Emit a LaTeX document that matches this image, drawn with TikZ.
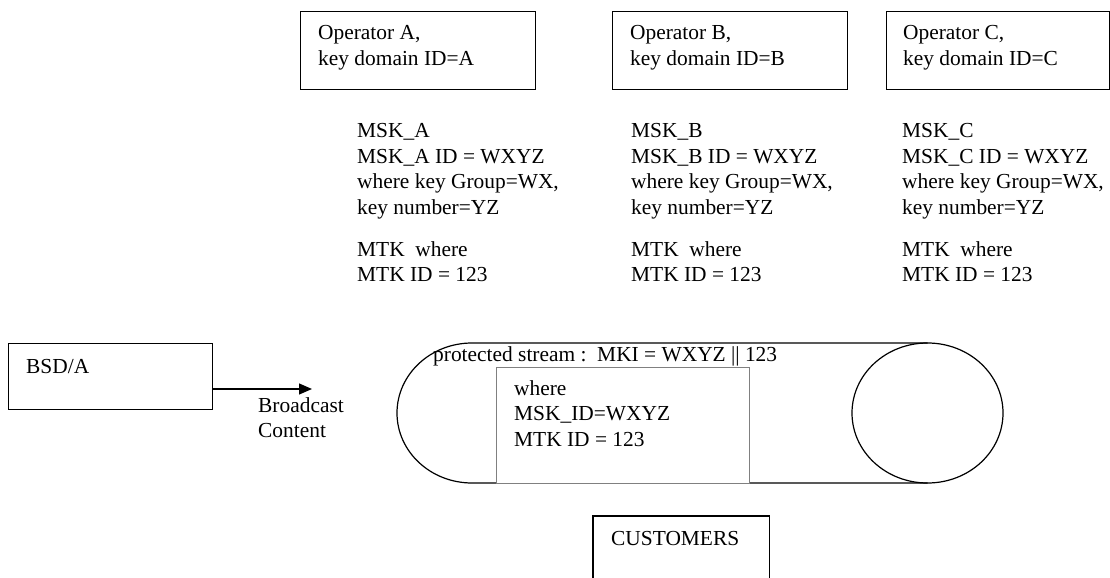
\documentclass[tikz,border=0pt]{standalone}
\usepackage{fontspec}
\setmainfont{Liberation Serif}
\usetikzlibrary{arrows.meta}
\begin{document}
\begin{tikzpicture}[x=1bp,y=-1bp,
  box/.style={draw, line width=1.2bp, inner sep=0, anchor=north west},
  innerbox/.style={draw=gray, fill=white, line width=1bp, inner sep=0, anchor=north west},
  txt/.style={inner sep=0, anchor=base west, font=\fontsize{21.4bp}{25.5bp}\selectfont},
  cyl/.style={draw, line width=1.2bp},
  flow/.style={draw, line width=1.2bp, -{Triangle[length=13bp,width=11bp]}}]
\useasboundingbox (0,0) rectangle (1110,578);

% operator boxes
\node[box, minimum width=235bp, minimum height=78bp] (opA) at (300,11) {};
\node[txt] (opAt) at (318,40) {\begin{tabular}[t]{@{}l@{}}Operator A,\\key domain ID=A\end{tabular}};
\node[box, minimum width=235bp, minimum height=78bp] (opB) at (612,11) {};
\node[txt] (opBt) at (630,40) {\begin{tabular}[t]{@{}l@{}}Operator B,\\key domain ID=B\end{tabular}};
\node[box, minimum width=223bp, minimum height=78bp] (opC) at (886,11) {};
\node[txt] (opCt) at (903,40) {\begin{tabular}[t]{@{}l@{}}Operator C,\\key domain ID=C\end{tabular}};

% key blocks
\node[txt] (mskA) at (357,138) {\begin{tabular}[t]{@{}l@{}}MSK\_A\\MSK\_A ID = WXYZ\\where key Group=WX,\\key number=YZ\\[16.5bp]MTK\ \ where\\MTK ID = 123\end{tabular}};
\node[txt] (mskB) at (631,138) {\begin{tabular}[t]{@{}l@{}}MSK\_B\\MSK\_B ID = WXYZ\\where key Group=WX,\\key number=YZ\\[16.5bp]MTK\ \ where\\MTK ID = 123\end{tabular}};
\node[txt] (mskC) at (902,138) {\begin{tabular}[t]{@{}l@{}}MSK\_C\\MSK\_C ID = WXYZ\\where key Group=WX,\\key number=YZ\\[16.5bp]MTK\ \ where\\MTK ID = 123\end{tabular}};

% BSD/A
\node[box, minimum width=204bp, minimum height=66bp] (bsd) at (8,343) {};
\node[txt] (bsdt) at (26,373) {BSD/A};
\coordinate (bcend) at (312,389);
\draw[flow] (bsd.east |- bcend) -- (bcend);
\node[txt] (bc) at (258,412) {\begin{tabular}[t]{@{}l@{}}Broadcast\\Content\end{tabular}};

% cylinder
\draw[cyl] (927.5,343) -- (472,343) arc[start angle=90, end angle=270, x radius=75bp, y radius=70bp] -- (927.5,483);
\draw[cyl] (927.5,413) ellipse [x radius=75.5bp, y radius=70bp];

% inner box
\node[innerbox, minimum width=253bp, minimum height=116bp] (inb) at (496,367) {};
\node[txt] (inbt) at (514,395) {\begin{tabular}[t]{@{}l@{}}where\\MSK\_ID=WXYZ\\MTK ID = 123\end{tabular}};
\node[txt] (ps) at (433,361) {protected stream :\ \ MKI = WXYZ || 123};

% customers
\node[inner sep=0, minimum width=176bp, minimum height=62bp, anchor=north west] (cust) at (593,516) {};
\draw[line width=1.2bp] (cust.south west) -- (cust.north west) -- (cust.north east) -- (cust.south east);
\node[txt] (custt) at (611,545) {CUSTOMERS};
\end{tikzpicture}
\end{document}
